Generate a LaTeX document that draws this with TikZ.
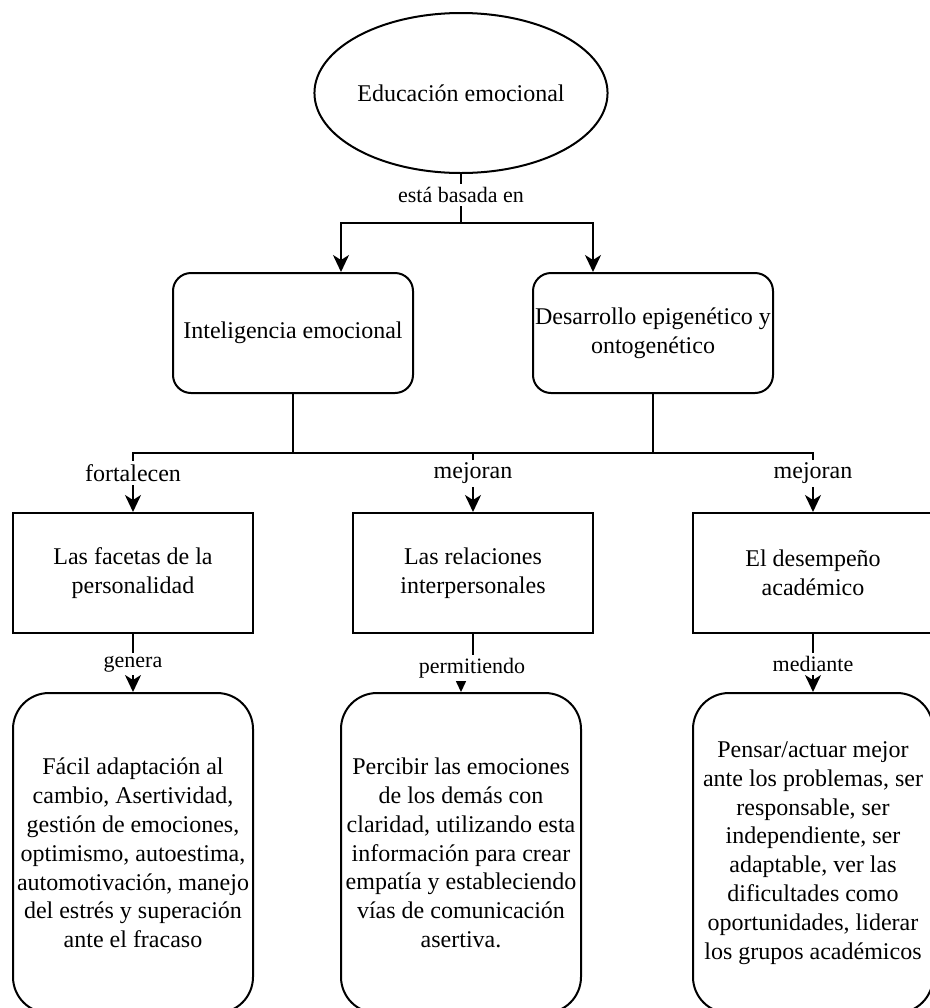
\documentclass[tikz,border=0pt]{standalone}
\usepackage{fontspec}
\setmainfont{Liberation Serif}
\usetikzlibrary{arrows.meta,shapes.geometric}
\begin{document}
\begin{tikzpicture}[x=0.5pt,y=-0.5pt,
  line width=1pt,
  every node/.style={font=\fontsize{12pt}{14.4pt}\selectfont, align=center, inner sep=0pt},
  ell/.style={draw, ellipse, minimum width=121pt, minimum height=80pt},
  rbox/.style={draw, rounded corners=9pt, minimum width=120pt, minimum height=60pt},
  sbox/.style={draw, minimum width=120pt, minimum height=60pt},
  tallbox/.style={draw, rounded corners=18pt, minimum width=120pt, minimum height=160pt},
  lbl/.style={fill=white, inner sep=1.5pt},
  slbl/.style={lbl, font=\fontsize{11pt}{13.2pt}\selectfont},
  arr/.style={-{Stealth[length=8.5pt,width=8pt,inset=2.5pt]}}
]
\clip (0,0) rectangle (930,1008);
\fill[white] (0,0) rectangle (930,1008);

% nodes
\node[ell] (E) at (461,93) {Educación emocional};
\node[rbox] (A) at (293,333) {Inteligencia emocional};
\node[rbox] (B) at (653,333) {Desarrollo epigenético y\\ontogenético};
\node[sbox] (C1) at (133,573) {Las facetas de la\\personalidad};
\node[sbox] (C2) at (473,573) {Las relaciones\\interpersonales};
\node[sbox] (C3) at (813,573) {El desempeño\\académico};
\node[tallbox] (D1) at (133,853) {Fácil adaptación al\\cambio, Asertividad,\\gestión de emociones,\\optimismo, autoestima,\\automotivación, manejo\\del estrés y superación\\ante el fracaso};
\node[tallbox] (D2) at (461,853) {Percibir las emociones\\de los demás con\\claridad, utilizando esta\\información para crear\\empatía y estableciendo\\vías de comunicación\\asertiva.};
\node[tallbox] (D3) at (813,853) {Pensar/actuar mejor\\ante los problemas, ser\\responsable, ser\\independiente, ser\\adaptable, ver las\\dificultades como\\oportunidades, liderar\\los grupos académicos};

% junctions
\coordinate (J1) at (461,223);
\coordinate (J2) at (473,453);
\coordinate (J3) at (473,672);

% top split
\draw (E.south) -- (J1);
\draw[arr] (J1) -| ([xshift=24pt]A.north);
\draw[arr] (J1) -| ([xshift=-30pt]B.north);
\node[slbl] (L0) at (461,195) {está basada en};

% middle merge
\draw (A.south) |- (J2);
\draw (B.south) |- (J2);
\draw[arr] (J2) -| (C1.north);
\draw[arr] (J2) -- (C2.north);
\draw[arr] (J2) -| (C3.north);
\node[lbl] (L1) at (133,473) {fortalecen};
\node[lbl] (L2) at (473,473) {mejoran};
\node[lbl] (L3) at (813,473) {mejoran};

% bottom
\draw[arr] (C1.south) -- (D1.north);
\node[slbl] (L4) at (133,664) {genera};
\draw[arr] (C2.south) |- (J3) -| (D2.north);
\node[slbl] (L5) at (472,668) {permitiendo};
\draw[arr] (C3.south) -- (D3.north);
\node[slbl] (L6) at (813,664) {mediante};
\end{tikzpicture}
\end{document}
